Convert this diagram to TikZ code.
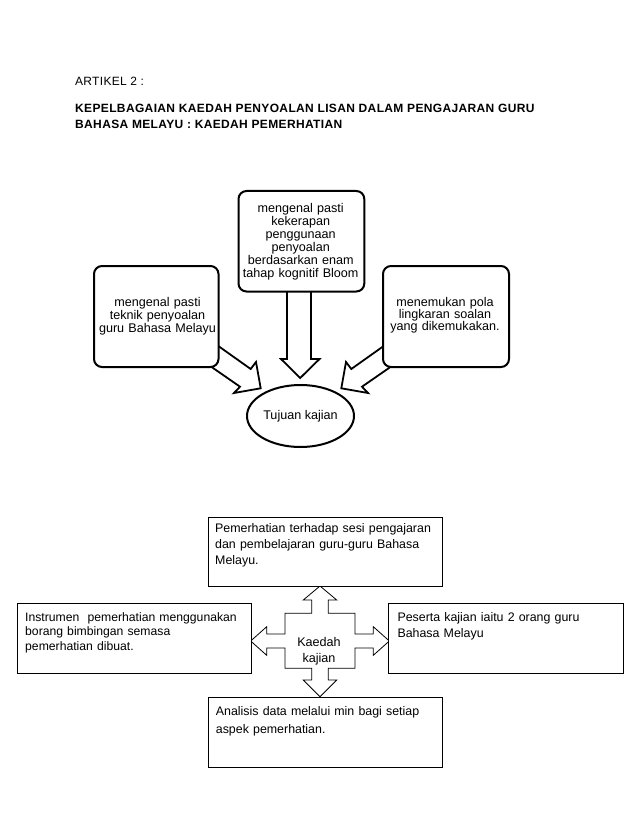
\documentclass[tikz,border=0pt]{standalone}
\usepackage{fontspec}
\setmainfont{Liberation Sans}
\usetikzlibrary{shapes.geometric}
\begin{document}
\begin{tikzpicture}[x=1pt,y=-1pt,
  rbox/.style={draw, line width=2pt, rounded corners=8pt, fill=white, inner sep=0pt, anchor=north west},
  bigarrow/.style={draw, line width=1.8pt, fill=white, line join=miter},
  pbox/.style={draw, line width=0.9pt, fill=white, inner sep=0pt, anchor=north west},
  crossshape/.style={draw, line width=0.8pt, fill=white, line join=miter},
  ctext/.style={font=\fontsize{12.6}{13}\selectfont, inner sep=0pt, anchor=base, align=center, text width=124pt},
  ltext/.style={font=\fontsize{12.4}{14}\selectfont, inner sep=0pt, anchor=base west, align=left, text width=228pt},
  htext/.style={inner sep=0pt, anchor=base west},
]
\fill[white] (0,0) rectangle (638,826);
\useasboundingbox (0,0) rectangle (638,826);

% header
\node[htext, font=\fontsize{12}{14}\selectfont\addfontfeature{LetterSpace=2.5}] (art) at (75,85.5) {ARTIKEL 2 :};
\node[htext, font=\bfseries\fontsize{12}{14}\selectfont\addfontfeature{LetterSpace=3}] (tA) at (75,112.3) {KEPELBAGAIAN KAEDAH PENYOALAN LISAN DALAM PENGAJARAN GURU};
\node[htext, font=\bfseries\fontsize{12}{14}\selectfont\addfontfeature{LetterSpace=3}] (tB) at (75,129) {BAHASA MELAYU : KAEDAH PEMERHATIAN};

% upper block arrows
\draw[bigarrow] (212.8,342.1) -- (250.7,369) -- (256,362) -- (260.7,388.3) -- (234,393) -- (240,386.7) -- (203.5,361.4) -- cycle;
\draw[bigarrow] (389.2,342.1) -- (351.3,369) -- (346,362) -- (341.3,388.3) -- (368,393) -- (362,386.7) -- (398.5,361.4) -- cycle;
\draw[bigarrow] (287,284) -- (287,359) -- (281,359) -- (300.2,378) -- (319.5,359) -- (311,359) -- (311,284) -- cycle;

% upper boxes
\node[rbox, minimum width=125.8pt, minimum height=100.5pt] (mid) at (237.5,190) {};
\node[rbox, minimum width=124.5pt, minimum height=101pt] (left) at (93,265) {};
\node[rbox, minimum width=126pt, minimum height=101pt] (right) at (382,265) {};
\node[draw, ellipse, line width=2pt, fill=white, minimum width=107pt, minimum height=62pt, inner sep=0pt, font=\fontsize{12.6}{13}\selectfont] (tujuan) at (300.5,416) {Tujuan kajian};

\node[ctext, font=\fontsize{12.6}{13}\selectfont] (tmid) at (300.7,212.5) {mengenal pasti\\kekerapan\\penggunaan\\penyoalan\\berdasarkan enam\\tahap kognitif Bloom};
\node[ctext, font=\fontsize{12.6}{11.5}\selectfont] (tleft) at (157.5,306.7) {mengenal pasti\\teknik penyoalan\\guru Bahasa Melayu};
\node[ctext, font=\fontsize{12.6}{12}\selectfont] (tright) at (445,306.7) {menemukan pola\\lingkaran soalan\\yang dikemukakan.};

% lower cross
\draw[crossshape] (320,586) -- (336.7,600) -- (328.3,600) -- (328.3,613.3) -- (355,613.3) -- (355,634) -- (373.3,634) -- (373.3,626.7) -- (389.3,641) -- (373.3,655.3) -- (373.3,648) -- (355,648) -- (355,668.3) -- (328.3,668.3) -- (328.3,680) -- (336.7,680) -- (320,696.7) -- (303.3,680) -- (311.7,680) -- (311.7,668.3) -- (285,668.3) -- (285,648) -- (266.7,648) -- (266.7,655.3) -- (250.7,641) -- (266.7,626.7) -- (266.7,634) -- (285,634) -- (285,613.3) -- (311.7,613.3) -- (311.7,600) -- (303.3,600) -- cycle;
\node[inner sep=0pt, anchor=base, align=center, text width=60pt, font=\fontsize{12.6}{16}\selectfont] (kaedah) at (319,646.5) {Kaedah\\kajian};

% lower boxes
\node[pbox, minimum width=234.5pt, minimum height=69pt] (btop) at (207.5,517) {};
\node[pbox, minimum width=234pt, minimum height=69.4pt] (bleft) at (16.7,603.3) {};
\node[pbox, minimum width=234.4pt, minimum height=69.4pt] (bright) at (388.3,603.3) {};
\node[pbox, minimum width=234.5pt, minimum height=70pt] (bbot) at (207.5,696.7) {};

\node[ltext, font=\fontsize{12.4}{16}\selectfont] (ttop) at (215,532.5) {Pemerhatian terhadap sesi pengajaran\\dan pembelajaran guru-guru Bahasa\\Melayu.};
\node[ltext, font=\fontsize{12.2}{14.6}\selectfont] (tleft2) at (25,621) {Instrumen\ \ pemerhatian menggunakan\\borang bimbingan semasa\\pemerhatian dibuat.};
\node[ltext, font=\fontsize{12.4}{16}\selectfont] (tright2) at (397.3,621) {Peserta kajian iaitu 2 orang guru\\Bahasa Melayu};
\node[ltext, font=\fontsize{12.4}{18}\selectfont] (tbot) at (215.7,715.5) {Analisis data melalui min bagi setiap\\aspek pemerhatian.};
\end{tikzpicture}
\end{document}
